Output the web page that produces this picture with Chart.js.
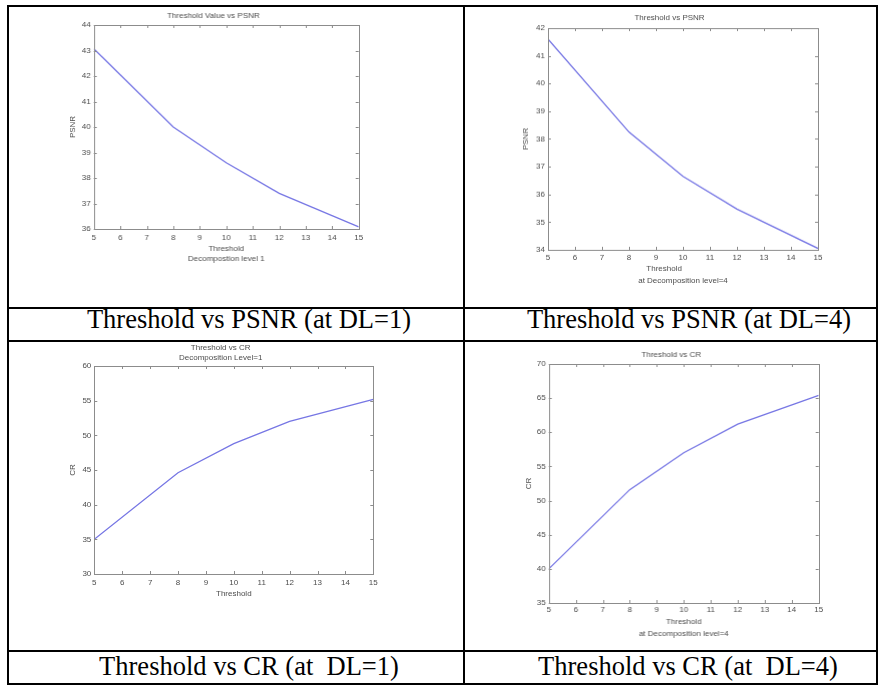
<!DOCTYPE html>
<html>
<head>
<meta charset="utf-8">
<script src="https://cdn.jsdelivr.net/npm/chart.js@4/dist/chart.umd.min.js"></script>
<style>
  body { margin: 0; background: #fff; }
  #page { position: relative; width: 878px; height: 685px; overflow: hidden; background: #fff; }
  .plot { position: absolute; }
  .rule { position: absolute; background: #000; }
  .cap {
    position: absolute; width: 420px; text-align: center; white-space: pre;
    font-family: "Liberation Serif", "Times New Roman", serif; font-size: 26.5px; line-height: 26px; color: #000;
  }
</style>
</head>
<body>
<div id="page">
  <div class="plot" id="c1"><canvas></canvas></div>
  <div class="plot" id="c2"><canvas></canvas></div>
  <div class="plot" id="c3"><canvas></canvas></div>
  <div class="plot" id="c4"><canvas></canvas></div>

  <div class="cap" style="left:39px;top:306px">Threshold vs PSNR (at DL=1)</div>
  <div class="cap" style="left:479px;top:306px">Threshold vs PSNR (at DL=4)</div>
  <div class="cap" style="left:39px;top:653px">Threshold vs CR (at  DL=1)</div>
  <div class="cap" style="left:478px;top:653px">Threshold vs CR (at  DL=4)</div>

  <!-- table lines -->
  <div class="rule" style="left:7px;top:5px;width:871px;height:2px"></div>
  <div class="rule" style="left:7px;top:307px;width:871px;height:2px"></div>
  <div class="rule" style="left:7px;top:340px;width:871px;height:2px"></div>
  <div class="rule" style="left:7px;top:650px;width:871px;height:2px"></div>
  <div class="rule" style="left:7px;top:683px;width:871px;height:2px"></div>
  <div class="rule" style="left:7px;top:5px;width:2px;height:680px"></div>
  <div class="rule" style="left:463px;top:5px;width:2px;height:680px"></div>
  <div class="rule" style="left:876px;top:5px;width:2px;height:680px"></div>
</div>

<script>
// threshold values used in all four plots
const thresholds = [5, 8, 10, 12, 15];

// PSNR at decomposition level 1 and 4
const psnrDL1 = [43.07, 40.0, 38.6, 37.4, 36.08];
const psnrDL4 = [41.6, 38.25, 36.65, 35.47, 34.05];

// compression ratio at decomposition level 1 and 4
const crDL1 = [35.0, 44.6, 48.8, 52.0, 55.2];
const crDL4 = [40.0, 51.6, 57.0, 61.2, 65.4];

// axis ranges [min, max, step]
const xRange = [5, 15, 1];
const psnrDL1Range = [36, 44, 1];
const psnrDL4Range = [34, 42, 1];
const crDL1Range = [30, 60, 5];
const crDL4Range = [35, 70, 5];

const LINE = '#7676e4';
const AXIS = '#8c8c8c';
const TEXT = '#4d4d4d';

Chart.defaults.font.family = '"Liberation Sans", Arial, sans-serif';
Chart.defaults.font.size = 8;
Chart.defaults.color = TEXT;

// MATLAB style box with ticks pointing inward on all sides
const matlabBox = {
  id: 'matlabBox',
  afterDatasetsDraw(chart) {
    const { ctx, chartArea: a, scales: { x, y } } = chart;
    const len = 3;
    ctx.save();
    ctx.strokeStyle = AXIS;
    ctx.lineWidth = 1;
    ctx.strokeRect(Math.round(a.left) + 0.5, Math.round(a.top) + 0.5,
      Math.round(a.right - a.left), Math.round(a.bottom - a.top));
    ctx.beginPath();
    x.ticks.forEach(t => {
      const px = Math.round(x.getPixelForValue(t.value)) + 0.5;
      ctx.moveTo(px, a.bottom); ctx.lineTo(px, a.bottom - len);
      ctx.moveTo(px, a.top); ctx.lineTo(px, a.top + len);
    });
    y.ticks.forEach(t => {
      const py = Math.round(y.getPixelForValue(t.value)) + 0.5;
      ctx.moveTo(a.left, py); ctx.lineTo(a.left + len, py);
      ctx.moveTo(a.right, py); ctx.lineTo(a.right - len, py);
    });
    ctx.stroke();
    ctx.restore();
  }
};

// place the canvas so the plot box lands where it is in the picture
function buildChart(id, cfg) {
  const lh = 10;
  const padL = 4, padR = 12, padB = 4;
  const xlh = cfg.xTitleLH || 10;
  const yW = cfg.plot.l - (cfg.yTitleX - lh / 2);
  const top = Math.round(cfg.titleY - lh / 2 - 3);
  const titleBottom = (cfg.plot.t - top) - 3 - lh * cfg.title.length;
  const xH = cfg.xTitleY - cfg.plot.b + xlh / 2;
  const left = cfg.plot.l - yW - padL;
  const width = cfg.plot.r - left + padR;
  const height = cfg.plot.b - top + xH + padB;

  const wrap = document.getElementById(id);
  wrap.style.left = left + 'px';
  wrap.style.top = top + 'px';
  wrap.style.width = width + 'px';
  wrap.style.height = height + 'px';

  new Chart(wrap.querySelector('canvas'), {
    type: 'line',
    data: {
      labels: thresholds,
      datasets: [{
        data: thresholds.map((t, i) => ({ x: t, y: cfg.values[i] })),
        borderColor: LINE,
        borderWidth: 1.3,
        pointRadius: 0,
        tension: 0,
        fill: false
      }]
    },
    options: {
      responsive: true,
      maintainAspectRatio: false,
      animation: false,
      layout: { padding: { left: padL, right: padR, top: 0, bottom: padB } },
      plugins: {
        legend: { display: false },
        tooltip: { enabled: false },
        title: {
          display: true,
          text: cfg.title,
          color: TEXT,
          font: { size: 8, weight: 'normal', lineHeight: lh + 'px' },
          padding: { top: 3, bottom: titleBottom }
        }
      },
      scales: {
        x: {
          type: 'linear',
          min: xRange[0], max: xRange[1],
          grid: { display: false, drawTicks: false },
          border: { display: false },
          ticks: { stepSize: xRange[2], padding: cfg.xPad, autoSkip: false, maxRotation: 0,
                   font: { size: 8, lineHeight: '10px' } },
          title: { display: true, text: cfg.xTitle, color: TEXT, padding: 0,
                   font: { size: 8, lineHeight: xlh + 'px' } },
          afterFit: s => { s.height = xH; }
        },
        y: {
          min: cfg.range[0], max: cfg.range[1],
          grid: { display: false, drawTicks: false },
          border: { display: false },
          ticks: { stepSize: cfg.range[2], padding: 3, font: { size: 8, lineHeight: '10px' } },
          title: { display: true, text: cfg.yTitle, color: TEXT, padding: 0,
                   font: { size: 8, lineHeight: lh + 'px' } },
          afterFit: s => { s.width = yW; }
        }
      }
    },
    plugins: [matlabBox]
  });
}

buildChart('c1', {
  values: psnrDL1, range: psnrDL1Range,
  plot: { l: 94, t: 25, r: 358, b: 229 },
  title: ['Threshold Value vs PSNR'], titleY: 15.7,
  yTitle: 'PSNR', yTitleX: 73.3,
  xTitle: ['Threshold', 'Decompostion level 1'], xTitleY: 258.3, xTitleLH: 10,
  xPad: 3.3
});

buildChart('c2', {
  values: psnrDL4, range: psnrDL4Range,
  plot: { l: 548, t: 28, r: 818, b: 249 },
  title: ['Threshold vs PSNR'], titleY: 18.3,
  yTitle: 'PSNR', yTitleX: 526,
  xTitle: ['Threshold' + ' '.repeat(17), 'at Decomposition level=4'], xTitleY: 280, xTitleLH: 11.7,
  xPad: 2.7
});

buildChart('c3', {
  values: crDL1, range: crDL1Range,
  plot: { l: 94, t: 366, r: 373, b: 574 },
  title: ['Threshold vs CR', 'Decomposition Level=1'], titleY: 347.7,
  yTitle: 'CR', yTitleX: 72.7,
  xTitle: ['Threshold'], xTitleY: 593.3, xTitleLH: 10,
  xPad: 3.3
});

buildChart('c4', {
  values: crDL4, range: crDL4Range,
  plot: { l: 549, t: 364, r: 818, b: 603 },
  title: ['Threshold vs CR'], titleY: 355,
  yTitle: 'CR', yTitleX: 529.3,
  xTitle: ['Threshold', 'at Decomposition level=4'], xTitleY: 633.3, xTitleLH: 11.6,
  xPad: 2
});
</script>
</body>
</html>
